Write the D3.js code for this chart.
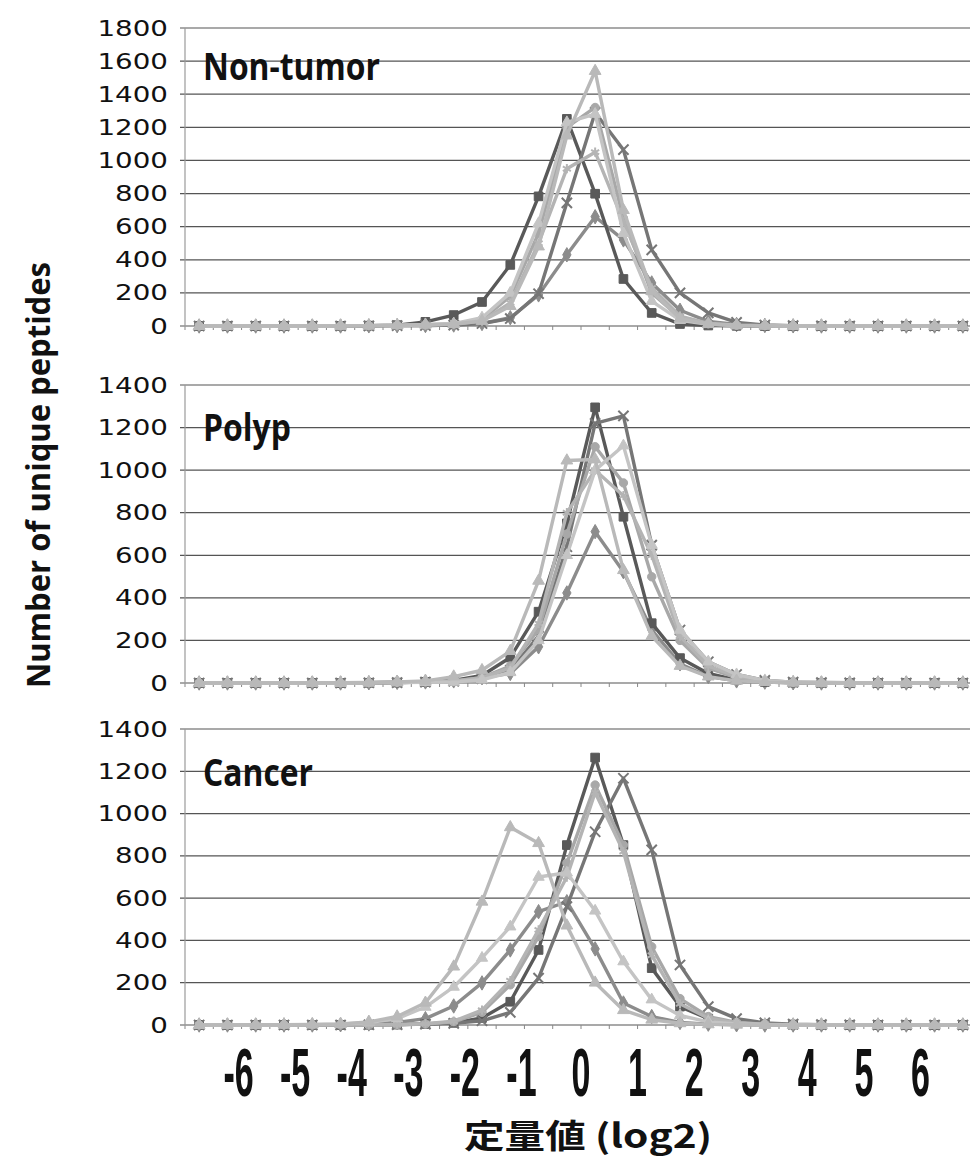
<!DOCTYPE html>
<html>
<head>
<meta charset="utf-8">
<script src="https://cdn.jsdelivr.net/npm/d3@7"></script>
<style>
  body { margin: 0; background: #fff; }
  svg { display: block; }
</style>
</head>
<body>
<svg id="chart" width="970" height="1160"></svg>
<script>
// bin centres of log2 ratio (category axis)
const categories = [-6.75, -6.25, -5.75, -5.25, -4.75, -4.25, -3.75, -3.25, -2.75, -2.25, -1.75, -1.25, -0.75, -0.25,
  0.25, 0.75, 1.25, 1.75, 2.25, 2.75, 3.25, 3.75, 4.25, 4.75, 5.25, 5.75, 6.25, 6.75];
const xTickLabels = [-6, -5, -4, -3, -2, -1, 0, 1, 2, 3, 4, 5, 6];
const topTicks = [0, 200, 400, 600, 800, 1000, 1200, 1400, 1600, 1800];
const lowerTicks = [0, 200, 400, 600, 800, 1000, 1200, 1400];

// Non-tumor
const nonTumorSquare = [0,0,0,0,0,1,2,5,25,66,145,369,783,1251,799,284,79,12,3,1,0,0,0,0,0,0,0,0];
const nonTumorX = [0,0,0,0,0,0,1,2,3,5,15,45,195,744,1290,1065,460,200,79,22,6,2,1,0,0,0,0,0];
const nonTumorTriangle = [0,0,0,0,0,1,2,4,8,12,30,120,480,1150,1540,700,210,45,12,4,2,1,0,0,0,0,0,0];
const nonTumorTriangle2 = [0,0,0,0,0,1,2,4,8,14,50,200,620,1230,1280,560,150,35,10,3,1,0,0,0,0,0,0,0];
const nonTumorCircle = [0,0,0,0,0,1,2,4,8,12,40,180,560,1200,1320,650,200,50,14,5,2,1,0,0,0,0,0,0];
const nonTumorStar = [0,0,0,0,0,1,2,3,6,10,30,140,500,950,1050,630,230,60,15,5,2,1,0,0,0,0,0,0];
const nonTumorDiamond = [0,0,0,0,0,0,1,2,3,6,15,50,188,430,660,520,260,95,28,9,3,1,0,0,0,0,0,0];

// Polyp
const polypSquare = [0,0,0,0,0,0,1,2,5,12,35,120,335,750,1295,781,281,117,45,15,5,2,1,0,0,0,0,0];
const polypX = [0,0,0,0,0,0,1,2,4,8,20,60,220,640,1220,1255,648,249,100,40,12,4,2,1,0,0,0,0];
const polypTriangle = [0,0,0,0,0,1,2,5,10,30,60,150,480,1045,1050,530,220,80,30,10,4,1,0,0,0,0,0,0];
const polypTriangle2 = [0,0,0,0,0,0,1,2,3,5,15,50,200,600,1000,1115,648,249,100,40,12,4,1,0,0,0,0,0];
const polypCircle = [0,0,0,0,0,0,1,3,5,10,25,80,250,700,1110,940,499,200,70,25,8,3,1,0,0,0,0,0];
const polypStar = [0,0,0,0,0,0,1,3,5,8,25,70,280,800,1000,880,600,220,80,30,10,3,1,0,0,0,0,0];
const polypDiamond = [0,0,0,0,0,0,1,3,5,10,25,45,170,423,711,523,250,90,30,10,4,1,0,0,0,0,0,0];

// Cancer
const cancerSquare = [0,0,0,0,0,0,1,2,5,10,33,110,355,851,1265,851,269,87,30,10,4,2,1,0,0,0,0,0];
const cancerX = [0,0,0,0,0,0,1,2,4,8,20,60,222,560,914,1167,828,284,87,30,10,4,2,1,0,0,0,0];
const cancerTriangle = [0,0,1,2,3,5,15,40,105,276,583,935,860,470,200,70,25,8,3,1,0,0,0,0,0,0,0,0];
const cancerTriangle2 = [0,0,0,1,2,4,12,30,85,180,317,465,700,720,540,300,120,45,15,5,2,1,0,0,0,0,0,0];
const cancerCircle = [0,0,0,0,0,0,0,1,5,15,60,190,418,766,1135,851,370,125,40,12,4,1,0,0,0,0,0,0];
const cancerStar = [0,0,0,0,0,0,1,2,6,18,70,210,450,700,1100,820,330,100,32,10,3,1,0,0,0,0,0,0];
const cancerDiamond = [0,0,0,0,0,1,5,12,30,90,199,355,536,583,360,104,40,12,4,1,0,0,0,0,0,0,0,0];

const svg = d3.select('#chart');

// series look, drawn in this order
const seriesStyle = {
  diamond: { color: '#8c8c8c', symbol: d3.symbolDiamond, size: 60, stroke: false },
  square: { color: '#595959', symbol: d3.symbolSquare, size: 75, stroke: false },
  x: { color: '#767676', symbol: d3.symbolTimes || d3.symbolX || d3.symbolCross, size: 70, stroke: true },
  circle: { color: '#a8a8a8', symbol: d3.symbolCircle, size: 55, stroke: false },
  star: { color: '#b4b4b4', symbol: d3.symbolAsterisk || d3.symbolStar, size: 60, stroke: true },
  triangle2: { color: '#c4c4c4', symbol: d3.symbolTriangle, size: 55, stroke: false },
  triangle: { color: '#b9b9b9', symbol: d3.symbolTriangle, size: 60, stroke: false }
};

const panels = [
  { title: 'Non-tumor', titleWidth: 177, titleY: 80, top: 28, bottom: 326, max: 1800, ticks: topTicks,
    series: { diamond: nonTumorDiamond, square: nonTumorSquare, x: nonTumorX, circle: nonTumorCircle,
      star: nonTumorStar, triangle2: nonTumorTriangle2, triangle: nonTumorTriangle } },
  { title: 'Polyp', titleWidth: 88, titleY: 441, top: 385, bottom: 683, max: 1400, ticks: lowerTicks,
    series: { diamond: polypDiamond, square: polypSquare, x: polypX, circle: polypCircle,
      star: polypStar, triangle2: polypTriangle2, triangle: polypTriangle } },
  { title: 'Cancer', titleWidth: 110, titleY: 786, top: 729, bottom: 1025, max: 1400, ticks: lowerTicks,
    series: { diamond: cancerDiamond, square: cancerSquare, x: cancerX, circle: cancerCircle,
      star: cancerStar, triangle2: cancerTriangle2, triangle: cancerTriangle } }
];

const plotLeft = 185;
const plotRight = 977; // right edge runs past the picture
const x = d3.scaleBand().domain(categories).range([plotLeft, plotRight]).padding(0);
const cx = v => x(v) + x.bandwidth() / 2;
const xValue = d3.scaleLinear().domain([-7, 7]).range([plotLeft, plotRight]);

panels.forEach(p => {
  const y = d3.scaleLinear().domain([0, p.max]).range([p.bottom, p.top]);
  const g = svg.append('g');

  // gridlines
  g.selectAll('line.grid')
    .data(p.ticks)
    .enter()
    .append('line')
    .attr('x1', plotLeft - 5)
    .attr('x2', 970)
    .attr('y1', d => y(d))
    .attr('y2', d => y(d))
    .attr('stroke', '#555')
    .attr('stroke-width', 1.2);

  // value axis line
  g.append('line')
    .attr('x1', plotLeft).attr('x2', plotLeft)
    .attr('y1', p.top).attr('y2', p.bottom + 4)
    .attr('stroke', '#9a9a9a').attr('stroke-width', 1.2);

  // category tick marks
  g.selectAll('line.ctick')
    .data(categories)
    .enter()
    .append('line')
    .attr('x1', d => x(d) + x.bandwidth())
    .attr('x2', d => x(d) + x.bandwidth())
    .attr('y1', p.bottom)
    .attr('y2', p.bottom + 4)
    .attr('stroke', '#888')
    .attr('stroke-width', 1);

  // tick labels
  g.selectAll('text.ytick')
    .data(p.ticks)
    .enter()
    .append('text')
    .attr('transform', d => `translate(168,${y(d)}) scale(1.32,1)`)
    .attr('dy', '0.36em')
    .attr('text-anchor', 'end')
    .attr('font-family', 'DejaVu Sans')
    .attr('font-size', 21)
    .attr('fill', '#111')
    .text(d => d);

  // series
  const line = d3.line().x((d, i) => cx(categories[i])).y(d => y(d));
  Object.keys(seriesStyle).forEach(key => {
    const values = p.series[key];
    const st = seriesStyle[key];
    g.append('path')
      .datum(values)
      .attr('d', line)
      .attr('fill', 'none')
      .attr('stroke', st.color)
      .attr('stroke-width', 3.4)
      .attr('stroke-linejoin', 'round');
    const sym = d3.symbol().type(st.symbol).size(st.size);
    g.selectAll(null)
      .data(values)
      .enter()
      .append('path')
      .attr('transform', (d, i) => `translate(${cx(categories[i])},${y(d)})`)
      .attr('d', sym)
      .attr('fill', st.stroke ? 'none' : st.color)
      .attr('stroke', st.color)
      .attr('stroke-width', st.stroke ? 2 : 1);
  });

  // panel title
  svg.append('text')
    .attr('x', 203)
    .attr('y', p.titleY)
    .attr('font-family', 'Open Sans, Liberation Sans, sans-serif')
    .attr('font-weight', 700)
    .attr('font-size', 37)
    .attr('textLength', p.titleWidth)
    .attr('lengthAdjust', 'spacingAndGlyphs')
    .attr('fill', '#111')
    .text(p.title);
});

// x tick labels (condensed bold)
svg.selectAll('text.xtick')
  .data(xTickLabels)
  .enter()
  .append('text')
  .attr('transform', d => `translate(${xValue(d) + (d < 0 ? -3 : 0)},1096) scale(0.5,1)`)
  .attr('text-anchor', 'middle')
  .attr('font-family', 'Liberation Sans, Arial, sans-serif')
  .attr('font-weight', 700)
  .attr('font-size', 68)
  .attr('fill', '#111')
  .text(d => d);

// axis titles
svg.append('text')
  .attr('transform', 'translate(50,475) rotate(-90)')
  .attr('text-anchor', 'middle')
  .attr('font-family', 'Open Sans, sans-serif')
  .attr('font-weight', 700)
  .attr('font-size', 32)
  .attr('textLength', 426)
  .attr('lengthAdjust', 'spacingAndGlyphs')
  .attr('fill', '#111')
  .text('Number of unique peptides');

svg.append('text')
  .attr('x', 588)
  .attr('y', 1148)
  .attr('text-anchor', 'middle')
  .attr('font-family', 'Noto Sans CJK JP, sans-serif')
  .attr('font-weight', 700)
  .attr('font-size', 33)
  .attr('textLength', 248)
  .attr('lengthAdjust', 'spacingAndGlyphs')
  .attr('fill', '#111')
  .text('定量値 (log2)');
</script>
</body>
</html>
